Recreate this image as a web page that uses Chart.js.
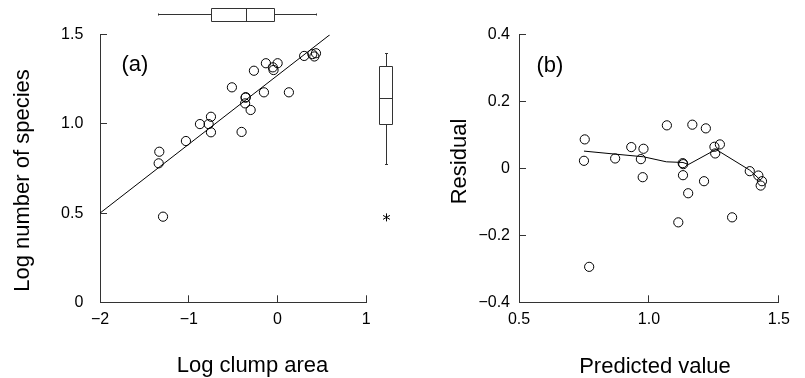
<!DOCTYPE html>
<html>
<head>
<meta charset="utf-8">
<script src="https://cdn.jsdelivr.net/npm/chart.js@4.4.1/dist/chart.umd.min.js"></script>
<style>
  html, body { margin: 0; padding: 0; background: #fff; }
  #wrap { position: relative; width: 805px; height: 378px; }
  canvas { position: absolute; top: 0; }
  #area_chart { left: 0; }
  #resid_chart { left: 400px; }
</style>
</head>
<body>
<div id="wrap">
  <canvas id="area_chart" width="400" height="378"></canvas>
  <canvas id="resid_chart" width="405" height="378"></canvas>
</div>
<script>
// (a) log clump area vs log number of species
const area_x = [-1.332, -1.339, -1.29, -1.032, -0.874, -0.776, -0.75, -0.75, -0.514, -0.405,
  -0.36, -0.358, -0.365, -0.303, -0.266, -0.153, -0.131, -0.045, -0.053, 0.001,
  0.128, 0.3, 0.392, 0.433, 0.415];
const species_y = [0.844, 0.779, 0.48, 0.904, 0.999, 0.999, 1.04, 0.953, 1.205, 0.955,
  1.147, 1.15, 1.115, 1.078, 1.298, 1.177, 1.34, 1.302, 1.317, 1.34,
  1.177, 1.381, 1.391, 1.396, 1.378];
// fitted regression line (ends)
const fit_x = [-2, 0.59];
const fit_y = [0.5, 1.5];
// marginal boxplots: min, q1, median, q3, max
const area_box = [-1.343, -0.753, -0.356, -0.037, 0.428];
const species_box = [0.777, 1.001, 1.143, 1.323, 1.396];
const species_outlier = [0.476];

// (b) predicted value vs residual
const pred_x = [0.753, 0.75, 0.77, 0.87, 0.932, 0.979, 0.969, 0.976, 1.069, 1.113,
  1.132, 1.13, 1.131, 1.151, 1.167, 1.212, 1.219, 1.252, 1.255, 1.273,
  1.32, 1.388, 1.421, 1.435, 1.43];
const resid_y = [0.087, 0.023, -0.294, 0.03, 0.064, 0.059, 0.028, -0.026, 0.129, -0.161,
  0.013, 0.016, -0.02, -0.074, 0.131, -0.038, 0.12, 0.065, 0.045, 0.072,
  -0.146, -0.008, -0.021, -0.038, -0.051];
// smoothed trend line
const smooth_x = [0.75, 0.87, 0.979, 1.067, 1.131, 1.152, 1.258, 1.388, 1.431];
const smooth_y = [0.052, 0.043, 0.035, 0.02, 0.018, 0.012, 0.057, -0.005, -0.036];

// ticks
const a_x_ticks = [-2, -1, 0, 1];
const a_x_labels = ["\u22122", "\u22121", "0", "1"];
const a_y_ticks = [0, 0.5, 1.0, 1.5];
const a_y_labels = ["0", "0.5", "1.0", "1.5"];
const b_x_ticks = [0.5, 1.0, 1.5];
const b_x_labels = ["0.5", "1.0", "1.5"];
const b_y_ticks = [-0.4, -0.2, 0, 0.2, 0.4];
const b_y_labels = ["\u22120.4", "\u22120.2", "0", "0.2", "0.4"];

const FONT = "'Liberation Sans', Arial, Helvetica, sans-serif";
const AXIS = "#333";

function pts(xs, ys) {
  return xs.map((x, i) => ({ x: x, y: ys[i] }));
}

function make_axis(min, max, tick_vals, tick_labels, pad, fit) {
  return {
    type: "linear",
    min: min,
    max: max,
    afterBuildTicks: (s) => { s.ticks = tick_vals.map((v) => ({ value: v })); },
    afterFit: fit,
    ticks: {
      callback: (v, i) => tick_labels[i],
      color: "#000",
      font: { family: FONT, size: 16 },
      padding: pad,
      maxRotation: 0,
      autoSkip: false,
    },
    // negative tick length -> ticks point into the plot
    grid: { drawOnChartArea: false, drawTicks: true, tickLength: -7, color: AXIS },
    border: { display: true, color: AXIS, width: 1 },
  };
}

// draws free text (axis titles, panel letters)
const text_plugin = {
  id: "free_text",
  afterDraw(chart, args, opts) {
    const ctx = chart.ctx;
    ctx.save();
    ctx.fillStyle = "#000";
    ctx.font = "22px " + FONT;
    ctx.textBaseline = "alphabetic";
    (opts.items || []).forEach((t) => {
      ctx.save();
      ctx.translate(t.x, t.y);
      if (t.rot) ctx.rotate(t.rot);
      ctx.textAlign = t.align || "center";
      ctx.fillText(t.text, 0, 0);
      ctx.restore();
    });
    ctx.restore();
  },
};

// marginal boxplots for panel (a)
const box_plugin = {
  id: "margin_box",
  afterDraw(chart) {
    const ctx = chart.ctx;
    const xs = chart.scales.x;
    const ys = chart.scales.y;
    ctx.save();
    ctx.strokeStyle = AXIS;
    ctx.lineWidth = 1;

    // horizontal box above the plot
    const p = area_box.map((v) => Math.round(xs.getPixelForValue(v)) + 0.5);
    const yc = 14.5, top = 8.5, bot = 21.5;
    ctx.beginPath();
    ctx.moveTo(p[0], yc); ctx.lineTo(p[1], yc);
    ctx.moveTo(p[3], yc); ctx.lineTo(p[4], yc);
    ctx.moveTo(p[0], yc - 1); ctx.lineTo(p[0], yc + 1);
    ctx.moveTo(p[4], yc - 1); ctx.lineTo(p[4], yc + 1);
    ctx.rect(p[1], top, p[3] - p[1], bot - top);
    ctx.moveTo(p[2], top); ctx.lineTo(p[2], bot);
    ctx.stroke();

    // vertical box right of the plot
    const q = species_box.map((v) => Math.round(ys.getPixelForValue(v)) + 0.5);
    const xc = 386.5, lft = 379.5, rgt = 392.5;
    ctx.beginPath();
    ctx.moveTo(xc, q[0]); ctx.lineTo(xc, q[1]);
    ctx.moveTo(xc, q[3]); ctx.lineTo(xc, q[4]);
    ctx.moveTo(xc - 1.5, q[0]); ctx.lineTo(xc + 1.5, q[0]);
    ctx.moveTo(xc - 1.5, q[4]); ctx.lineTo(xc + 1.5, q[4]);
    ctx.rect(lft, q[3], rgt - lft, q[1] - q[3]);
    ctx.moveTo(lft, q[2]); ctx.lineTo(rgt, q[2]);
    ctx.stroke();

    // outlier star
    ctx.strokeStyle = "#000";
    species_outlier.forEach((v) => {
      const yy = ys.getPixelForValue(v);
      const r = 4;
      ctx.beginPath();
      ctx.moveTo(xc, yy - r); ctx.lineTo(xc, yy + r);
      ctx.moveTo(xc - r * 0.87, yy - r / 2); ctx.lineTo(xc + r * 0.87, yy + r / 2);
      ctx.moveTo(xc - r * 0.87, yy + r / 2); ctx.lineTo(xc + r * 0.87, yy - r / 2);
      ctx.stroke();
    });
    ctx.restore();
  },
};

const circle_style = {
  pointRadius: 4.6,
  pointBorderWidth: 1,
  pointBorderColor: "#000",
  pointBackgroundColor: "rgba(0,0,0,0)",
  showLine: false,
};

const area_ctx = document.getElementById("area_chart");
const area_chart = new Chart(area_ctx, {
  type: "scatter",
  data: {
    datasets: [
      Object.assign({ data: pts(area_x, species_y) }, circle_style),
      {
        data: pts(fit_x, fit_y),
        showLine: true,
        borderColor: "#000",
        borderWidth: 1,
        pointRadius: 0,
      },
    ],
  },
  options: {
    responsive: false,
    animation: false,
    events: [],
    layout: { padding: { top: 34.7, right: 33.7, left: 0, bottom: 0 } },
    plugins: {
      legend: { display: false },
      tooltip: { enabled: false },
      free_text: {
        items: [
          { text: "(a)", x: 121.5, y: 71, align: "left" },
          { text: "Log clump area", x: 252.5, y: 372 },
          { text: "Log number of species", x: 29, y: 180.5, rot: -Math.PI / 2 },
        ],
      },
    },
    scales: {
      x: make_axis(-2, 1, a_x_ticks, a_x_labels, 15, (s) => { s.height = 75.7; }),
      y: make_axis(0, 1.5, a_y_ticks, a_y_labels, 23.7, (s) => { s.width = 100; }),
    },
  },
  plugins: [box_plugin, text_plugin],
});

const resid_ctx = document.getElementById("resid_chart");
const resid_chart = new Chart(resid_ctx, {
  type: "scatter",
  data: {
    datasets: [
      Object.assign({ data: pts(pred_x, resid_y) }, circle_style),
      {
        data: pts(smooth_x, smooth_y),
        showLine: true,
        borderColor: "#000",
        borderWidth: 1,
        pointRadius: 0,
      },
    ],
  },
  options: {
    responsive: false,
    animation: false,
    events: [],
    layout: { padding: { top: 34.7, right: 20, left: 38, bottom: 0 } },
    plugins: {
      legend: { display: false },
      tooltip: { enabled: false },
      free_text: {
        items: [
          { text: "(b)", x: 136.5, y: 72, align: "left" },
          { text: "Predicted value", x: 255, y: 372.5 },
          { text: "Residual", x: 66, y: 161.5, rot: -Math.PI / 2 },
        ],
      },
    },
    scales: {
      x: make_axis(0.5, 1.5, b_x_ticks, b_x_labels, 15, (s) => { s.height = 75.7; }),
      y: make_axis(-0.4, 0.4, b_y_ticks, b_y_labels, 16, (s) => { s.width = 81; }),
    },
  },
  plugins: [text_plugin],
});
</script>
</body>
</html>
